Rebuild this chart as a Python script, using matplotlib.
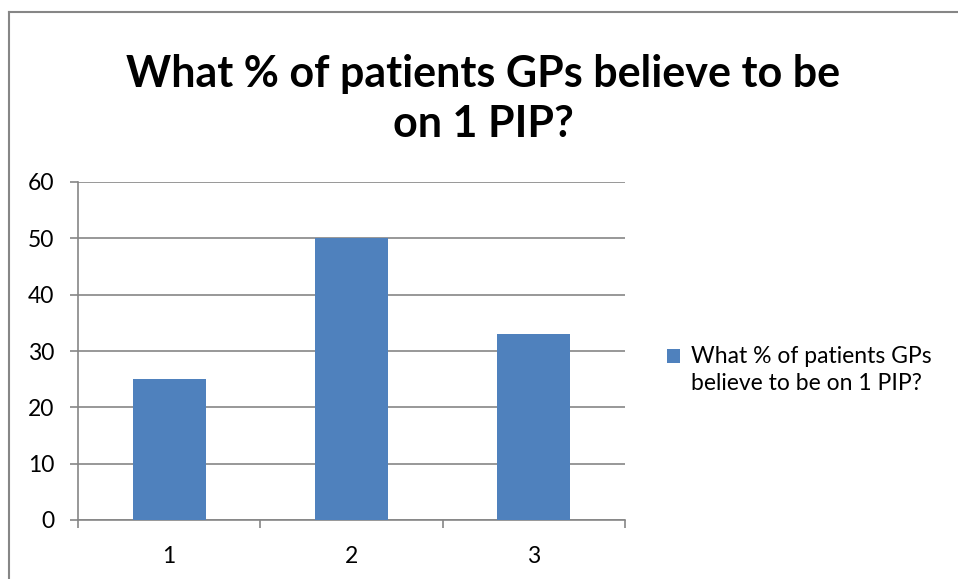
import matplotlib.pyplot as plt
from matplotlib.lines import Line2D
from matplotlib.patches import Rectangle
from matplotlib.legend_handler import HandlerPatch
from matplotlib.container import BarContainer

# datos
categorias = [1, 2, 3]
valores = [25, 50, 33]
serie = "What % of patients GPs\nbelieve to be on 1 PIP?"
titulo = "What % of patients GPs believe to be\non 1 PIP?"

plt.rcParams['font.family'] = ['Lato', 'DejaVu Sans']

fig = plt.figure(figsize=(9.58, 5.79), dpi=100)
ax = fig.add_axes([78 / 958, 59 / 579, 547 / 958, 338 / 579])

gris = '#868686'
ax.bar(categorias, valores, width=0.4, color='#4F81BD', label=serie, zorder=3)

ax.set_xlim(0.5, 3.5)
ax.set_ylim(0, 60)
ax.set_yticks(range(0, 61, 10))
ax.yaxis.grid(True, color=gris, linewidth=1.2, zorder=0)

ax.set_xticks(categorias)
ax.set_xticks([0.5, 1.5, 2.5, 3.5], minor=True)
ax.tick_params(axis='x', which='major', length=0, pad=19, labelsize=16.5)
ax.tick_params(axis='x', which='minor', length=6, color=gris, width=1.2)
ax.tick_params(axis='y', length=6, color=gris, width=1.2, pad=11, labelsize=16.5)

for lado in ['top', 'right']:
    ax.spines[lado].set_visible(False)
for lado in ['left', 'bottom']:
    ax.spines[lado].set_color(gris)
    ax.spines[lado].set_linewidth(1.2)

fig.text(0.5 * (8 + 958) / 958, 1 - 99 / 579, titulo, ha='center', va='center',
         fontsize=31, fontweight='bold', linespacing=1.3)


# cuadrado de la leyenda alineado con la primera línea
def cuadro(legend, orig_handle, xdescent, ydescent, width, height, fontsize):
    return Rectangle((-xdescent, -ydescent + 10.5), width, height)


def copiar(h, o):
    h.update_from(o.patches[0])


ax.legend(loc='center left', bbox_to_anchor=(646 / 958, 1 - 370 / 579),
          bbox_transform=fig.transFigure, frameon=False, fontsize=16.5,
          handlelength=0.6, handleheight=0.6, handletextpad=0.45, labelspacing=0.5,
          handler_map={BarContainer: HandlerPatch(patch_func=cuadro, update_func=copiar)})
for t in ax.get_legend().get_texts():
    t.set_linespacing(1.3)

# borde del gráfico
fig.add_artist(Line2D([8.5 / 958, 8.5 / 958], [0, 1 - 11.5 / 579], transform=fig.transFigure,
                      color=gris, linewidth=1.5))
fig.add_artist(Line2D([8.5 / 958, 1], [1 - 11.5 / 579, 1 - 11.5 / 579], transform=fig.transFigure,
                      color=gris, linewidth=1.5))

fig.savefig('out.png', dpi=100)
